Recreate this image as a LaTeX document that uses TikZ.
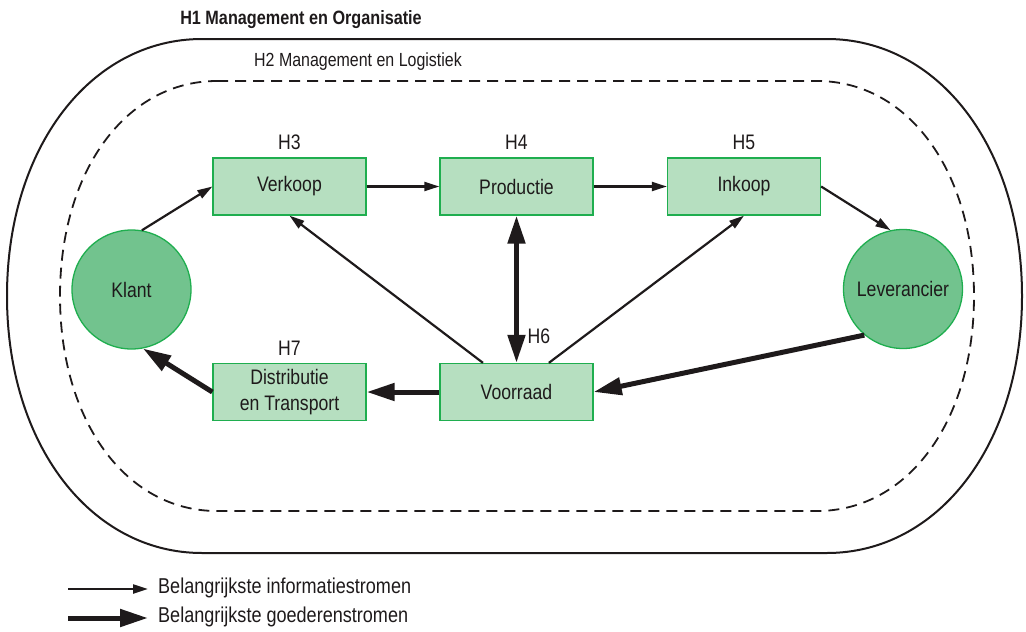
\documentclass[tikz,border=0pt]{standalone}
\usepackage{fontspec}
\setmainfont[FakeStretch=0.84]{Liberation Sans}
\usetikzlibrary{arrows.meta}
\definecolor{boxfill}{HTML}{B6DFC0}
\definecolor{boxline}{HTML}{1FAE4F}
\definecolor{circfill}{HTML}{72C38E}
\definecolor{txt}{HTML}{1E1A1B}
\tikzset{
  stepbox/.style={draw=boxline, fill=boxfill, line width=1.3pt, minimum width=153pt, minimum height=57pt, inner sep=0pt, text=txt, font=\fontsize{21}{26}\selectfont, align=center},
  party/.style={circle, draw=boxline, fill=circfill, line width=1.3pt, minimum size=119pt, inner sep=0pt, text=txt, font=\fontsize{21}{24}\selectfont},
  hlabel/.style={text=txt, font=\fontsize{21}{24}\selectfont, inner sep=0pt},
  info/.style={draw=txt, line width=2.2pt, -{Triangle[length=15pt,width=9pt]}},
  goods/.style={draw=txt, line width=5pt, -{Triangle[length=28pt,width=17pt]}},
  goodsboth/.style={draw=txt, line width=5pt, {Triangle[length=28pt,width=17pt]}-{Triangle[length=28pt,width=17pt]}},
  legtext/.style={text=txt, font=\fontsize{21.5}{24}\selectfont, anchor=west, inner sep=0pt},
}
\begin{document}
\begin{tikzpicture}[x=1pt,y=-1pt]
\useasboundingbox (0,0) rectangle (1026,632);
% outer frame
\draw[txt, line width=2pt] (202,39) -- (827,39) .. controls (938,39) and (1022,147) .. (1022,296) .. controls (1022,445) and (938,553) .. (827,553) -- (202,553) .. controls (91,553) and (7,445) .. (7,296) .. controls (7,147) and (91,39) .. (202,39) -- cycle;
% inner dashed frame
\draw[txt, line width=1.8pt, dash pattern=on 11pt off 7pt] (217,81) -- (817,81) .. controls (908,81) and (974,171) .. (974,296) .. controls (974,421) and (908,511) .. (817,511) -- (217,511) .. controls (126,511) and (60,421) .. (60,296) .. controls (60,171) and (126,81) .. (217,81) -- cycle;
% titles
\node[text=txt, font=\bfseries\fontsize{19.3}{22}\selectfont, inner sep=0pt] (h1) at (301,20) {H1 Management en Organisatie};
\node[text=txt, font=\fontsize{19}{22}\selectfont, inner sep=0pt] (h2) at (358,62) {H2 Management en Logistiek};
% nodes
\node[stepbox] (verkoop) at (289.5,186.5) {Verkoop};
\node[stepbox] (productie) at (516.5,186.5) {Productie};
\node[stepbox] (inkoop) at (744,186.5) {Inkoop};
\node[stepbox] (distributie) at (289.5,392) {Distributie\\en Transport};
\node[stepbox] (voorraad) at (516.5,392) {Voorraad};
\node[party] (klant) at (131.5,289.5) {Klant};
\node[party] (leverancier) at (903,289) {Leverancier};
% chapter labels
\node[hlabel] (h3) at (289.5,142) {H3};
\node[hlabel] (h4) at (516.5,142) {H4};
\node[hlabel] (h5) at (744,142) {H5};
\node[hlabel] (h7) at (289.5,348) {H7};
\node[hlabel] (h6) at (539,336) {H6};
% information flows
\draw[info] (klant.80) -- (verkoop.west);
\draw[info] (verkoop.east) -- (productie.west);
\draw[info] (productie.east) -- (inkoop.west);
\draw[info] (inkoop.east) -- (leverancier.102);
\draw[info] (voorraad.139) -- (verkoop.south);
\draw[info] (voorraad.42.6) -- (inkoop.south);
% goods flows
\draw[goods] (leverancier.230) -- (voorraad.east);
\draw[goods] (voorraad.west) -- (distributie.east);
\draw[goods] (distributie.west) -- (klant.281);
\draw[goodsboth] (productie.south) -- (voorraad.north);
% legend
\coordinate (l1a) at (68,589);
\coordinate (l1b) at (148,589);
\coordinate (l2a) at (68,618);
\coordinate (l2b) at (148,618);
\draw[info] (l1a) -- (l1b);
\draw[goods] (l2a) -- (l2b);
\node[legtext] (leg1) at (158,588) {Belangrijkste informatiestromen};
\node[legtext] (leg2) at (158,617) {Belangrijkste goederenstromen};
\end{tikzpicture}
\end{document}
